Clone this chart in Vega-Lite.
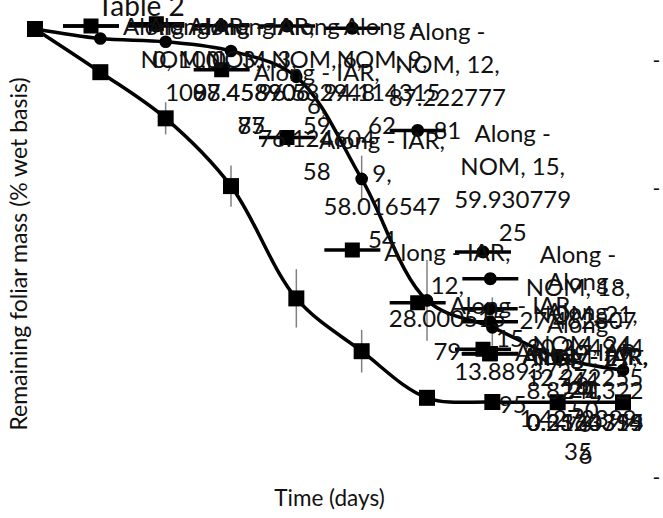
{
  "$schema": "https://vega.github.io/schema/vega-lite/v6.json",
  "width": 588,
  "height": 449,
  "autosize": {"type": "none"},
  "padding": {"left": 35, "top": 29, "right": 40, "bottom": 40},
  "background": "white",
  "title": {"text": "Table 2", "anchor": "start", "frame": "group", "dx": 62, "offset": -28, "baseline": "alphabetic", "font": "Lato", "fontSize": 28, "fontWeight": "normal", "color": "#111111"},
  "config": {"view": {"stroke": null}},
  "data": {"values": [
    {"series": "Along - NOM", "day": 0, "value": 100, "err": 0, "label": "Along -\nNOM, 0,\n100"},
    {"series": "Along - NOM", "day": 3, "value": 97.45890675, "err": 0.8, "label": "Along -\nNOM, 3,\n97.458906\n75"},
    {"series": "Along - NOM", "day": 6, "value": 96.58294859, "err": 1.2, "label": "Along -\nNOM, 6,\n96.582948\n59"},
    {"series": "Along - NOM", "day": 9, "value": 94.11431562, "err": 1.5, "label": "Along -\nNOM, 9,\n94.114315\n62"},
    {"series": "Along - NOM", "day": 12, "value": 87.22277781, "err": 1.5, "label": "Along -\nNOM, 12,\n87.222777\n81"},
    {"series": "Along - NOM", "day": 15, "value": 59.93077925, "err": 6.2, "label": "Along -\nNOM, 15,\n59.930779\n25"},
    {"series": "Along - NOM", "day": 18, "value": 27.46280717, "err": 10.8, "label": "Along -\nNOM, 18,\n27.462807\n17"},
    {"series": "Along - NOM", "day": 21, "value": 20.26494444, "err": 8, "label": "Along -\nNOM, 21,\n20.264944\n44"},
    {"series": "Along - NOM", "day": 24, "value": 12.2722555, "err": 2, "label": "Along -\nNOM, 24,\n12.272255\n50"},
    {"series": "Along - NOM", "day": 27, "value": 8.82413226, "err": 1.5, "label": "Along -\nNOM, 27,\n8.8241322\n6"},
    {"series": "Along - IAR", "day": 0, "value": 100, "err": 0, "label": "Along - IAR,\n0, 100"},
    {"series": "Along - IAR", "day": 3, "value": 88.45890687, "err": 1, "label": "Along - IAR,\n3,\n88.458906\n87"},
    {"series": "Along - IAR", "day": 6, "value": 76.12460458, "err": 4.3, "label": "Along - IAR,\n6,\n76.124604\n58"},
    {"series": "Along - IAR", "day": 9, "value": 58.01654754, "err": 5.5, "label": "Along - IAR,\n9,\n58.016547\n54"},
    {"series": "Along - IAR", "day": 12, "value": 28.00051579, "err": 7.8, "label": "Along - IAR,\n12,\n28.000515\n79"},
    {"series": "Along - IAR", "day": 15, "value": 13.88937295, "err": 5.7, "label": "Along - IAR,\n15,\n13.889372\n95"},
    {"series": "Along - IAR", "day": 18, "value": 1.427239935, "err": 0.8, "label": "Along - IAR,\n18,\n1.4272399\n35"},
    {"series": "Along - IAR", "day": 21, "value": 0.31607556, "err": 0.3, "label": "Along - IAR,\n21,\n0.3160755\n6"},
    {"series": "Along - IAR", "day": 24, "value": 0.2524314, "err": 0.3, "label": "Along - IAR,\n24,\n0.2524314"},
    {"series": "Along - IAR", "day": 27, "value": 0.2323399, "err": 0.3, "label": "Along - IAR,\n27,\n0.2323399"}
  ]},
  "layer": [
    {
      "encoding": {
        "x": {"field": "day", "type": "quantitative", "scale": {"domain": [0, 27], "nice": false, "zero": false},
          "axis": {"title": "Time (days)", "labels": false, "ticks": false, "domain": false, "grid": false, "titlePadding": 9, "titleFont": "Lato", "titleFontSize": 22.5, "titleFontWeight": "normal", "titleColor": "#111111"}},
        "y": {"field": "value", "type": "quantitative", "scale": {"domain": [-20, 100], "nice": false, "zero": false},
          "axis": {"title": "Remaining foliar mass (% wet basis)", "labels": false, "ticks": false, "domain": false, "grid": false, "titlePadding": 4, "titleFont": "Lato", "titleFontSize": 23, "titleFontWeight": "normal", "titleColor": "#111111"}}
      },
      "layer": [
        {"mark": {"type": "errorbar", "color": "#808080", "thickness": 1.5}, "encoding": {"yError": {"field": "err"}}},
        {"mark": {"type": "line", "color": "black", "strokeWidth": 3.5, "interpolate": "catmull-rom"}, "encoding": {"detail": {"field": "series"}}},
        {"transform": [{"filter": "datum.series == 'Along - IAR'"}], "mark": {"type": "point", "shape": "square", "size": 256, "filled": true, "color": "black", "opacity": 1}},
        {"transform": [{"filter": "datum.series == 'Along - NOM'"}], "mark": {"type": "point", "shape": "circle", "size": 160, "filled": true, "color": "black", "opacity": 1}},

        {"transform": [{"filter": "datum.series == 'Along - NOM' && datum.day >= 12 && datum.day <= 18"}], "mark": {"type": "point", "size": 4, "filled": true, "color": "black", "opacity": 1, "shape": "M28,-50.25H84V-46.75H28Z M49.5,-48.5A6.5,6.5 0 1 1 62.5,-48.5A6.5,6.5 0 1 1 49.5,-48.5Z"}},
        {"transform": [{"filter": "datum.series == 'Along - IAR' && datum.day >= 3 && datum.day <= 18"}], "mark": {"type": "point", "size": 4, "filled": true, "color": "black", "opacity": 1, "shape": "M28,-50.25H84V-46.75H28Z M48.5,-56H63.5V-41H48.5Z"}},
        {"transform": [{"filter": "datum.series == 'Along - NOM' && datum.day == 0"}], "mark": {"type": "point", "size": 4, "filled": true, "color": "black", "opacity": 1, "shape": "M28,-4.75H84V-1.25H28Z M49.5,-3A6.5,6.5 0 1 1 62.5,-3A6.5,6.5 0 1 1 49.5,-3Z"}},
        {"transform": [{"filter": "datum.series == 'Along - IAR' && datum.day == 0"}], "mark": {"type": "point", "size": 4, "filled": true, "color": "black", "opacity": 1, "shape": "M28,-4.75H84V-1.25H28Z M48.5,-10.5H63.5V4.5H48.5Z"}},
        {"transform": [{"filter": "datum.series == 'Along - NOM' && datum.day == 3"}], "mark": {"type": "point", "size": 4, "filled": true, "color": "black", "opacity": 1, "shape": "M28,-14.25H84V-10.75H28Z M49.5,-12.5A6.5,6.5 0 1 1 62.5,-12.5A6.5,6.5 0 1 1 49.5,-12.5Z"}},
        {"transform": [{"filter": "datum.series == 'Along - NOM' && datum.day == 6"}], "mark": {"type": "point", "size": 4, "filled": true, "color": "black", "opacity": 1, "shape": "M28,-17.75H84V-14.25H28Z M49.5,-16A6.5,6.5 0 1 1 62.5,-16A6.5,6.5 0 1 1 49.5,-16Z"}},
        {"transform": [{"filter": "datum.series == 'Along - NOM' && datum.day == 9"}], "mark": {"type": "point", "size": 4, "filled": true, "color": "black", "opacity": 1, "shape": "M28,-26.75H84V-23.25H28Z M49.5,-25A6.5,6.5 0 1 1 62.5,-25A6.5,6.5 0 1 1 49.5,-25Z"}},
        {"transform": [{"filter": "datum.series == 'Along - NOM' && datum.day == 21"}], "mark": {"type": "point", "size": 4, "filled": true, "color": "black", "opacity": 1, "shape": "M-30,-50.25H26V-46.75H-30Z M-8.5,-48.5A6.5,6.5 0 1 1 4.5,-48.5A6.5,6.5 0 1 1 -8.5,-48.5Z"}},
        {"transform": [{"filter": "datum.series == 'Along - IAR' && datum.day == 21"}], "mark": {"type": "point", "size": 4, "filled": true, "color": "black", "opacity": 1, "shape": "M-30,-50.25H26V-46.75H-30Z M-9.5,-56H5.5V-41H-9.5Z"}},
        {"transform": [{"filter": "datum.series == 'Along - NOM' && datum.day == 24"}], "mark": {"type": "point", "size": 4, "filled": true, "color": "black", "opacity": 1, "shape": "M-96,-50.25H-40V-46.75H-96Z M-74.5,-48.5A6.5,6.5 0 1 1 -61.5,-48.5A6.5,6.5 0 1 1 -74.5,-48.5Z"}},
        {"transform": [{"filter": "datum.series == 'Along - IAR' && datum.day == 24"}], "mark": {"type": "point", "size": 4, "filled": true, "color": "black", "opacity": 1, "shape": "M-96,-50.25H-40V-46.75H-96Z M-75.5,-56H-60.5V-41H-75.5Z"}},
        {"transform": [{"filter": "datum.series == 'Along - NOM' && datum.day == 27"}], "mark": {"type": "point", "size": 4, "filled": true, "color": "black", "opacity": 1, "shape": "M-161,-50.25H-105V-46.75H-161Z M-139.5,-48.5A6.5,6.5 0 1 1 -126.5,-48.5A6.5,6.5 0 1 1 -139.5,-48.5Z"}},
        {"transform": [{"filter": "datum.series == 'Along - IAR' && datum.day == 27"}], "mark": {"type": "point", "size": 4, "filled": true, "color": "black", "opacity": 1, "shape": "M-161,-50.25H-105V-46.75H-161Z M-140.5,-56H-125.5V-41H-140.5Z"}},

        {"transform": [{"filter": "(datum.series == 'Along - NOM' && datum.day >= 12 && datum.day <= 18) || (datum.series == 'Along - IAR' && datum.day >= 3 && datum.day <= 18)"}], "mark": {"type": "text", "align": "center", "baseline": "top", "lineBreak": "\n", "lineHeight": 33, "font": "Lato", "fontSize": 24, "color": "#111111", "dx": 151, "dy": -56}, "encoding": {"text": {"field": "label"}}},
        {"transform": [{"filter": "datum.day == 0"}], "mark": {"type": "text", "align": "center", "baseline": "top", "lineBreak": "\n", "lineHeight": 33, "font": "Lato", "fontSize": 24, "color": "#111111", "dx": 151, "dy": -13}, "encoding": {"text": {"field": "label"}}},
        {"transform": [{"filter": "datum.series == 'Along - NOM' && datum.day == 3"}], "mark": {"type": "text", "align": "center", "baseline": "top", "lineBreak": "\n", "lineHeight": 33, "font": "Lato", "fontSize": 24, "color": "#111111", "dx": 151, "dy": -22.5}, "encoding": {"text": {"field": "label"}}},
        {"transform": [{"filter": "datum.series == 'Along - NOM' && datum.day == 6"}], "mark": {"type": "text", "align": "center", "baseline": "top", "lineBreak": "\n", "lineHeight": 33, "font": "Lato", "fontSize": 24, "color": "#111111", "dx": 151, "dy": -26}, "encoding": {"text": {"field": "label"}}},
        {"transform": [{"filter": "datum.series == 'Along - NOM' && datum.day == 9"}], "mark": {"type": "text", "align": "center", "baseline": "top", "lineBreak": "\n", "lineHeight": 33, "font": "Lato", "fontSize": 24, "color": "#111111", "dx": 151, "dy": -35}, "encoding": {"text": {"field": "label"}}},
        {"transform": [{"filter": "datum.day == 21"}], "mark": {"type": "text", "align": "center", "baseline": "top", "lineBreak": "\n", "lineHeight": 33, "font": "Lato", "fontSize": 24, "color": "#111111", "dx": 93, "dy": -56}, "encoding": {"text": {"field": "label"}}},
        {"transform": [{"filter": "datum.day == 24"}], "mark": {"type": "text", "align": "center", "baseline": "top", "lineBreak": "\n", "lineHeight": 33, "font": "Lato", "fontSize": 24, "color": "#111111", "dx": 27, "dy": -56}, "encoding": {"text": {"field": "label"}}},
        {"transform": [{"filter": "datum.day == 27"}], "mark": {"type": "text", "align": "center", "baseline": "top", "lineBreak": "\n", "lineHeight": 33, "font": "Lato", "fontSize": 24, "color": "#111111", "dx": -38, "dy": -56}, "encoding": {"text": {"field": "label"}}}
      ]
    },
    {
      "mark": {"type": "point", "opacity": 0},
      "encoding": {
        "y": {"field": "value", "type": "quantitative", "scale": {"domain": [-20, 100], "nice": false, "zero": false},
          "axis": {"orient": "right", "values": [91.2, 57, -20], "labelExpr": "'-'", "domain": false, "ticks": false, "grid": false, "title": null, "labelPadding": 29, "labelFont": "Lato", "labelFontSize": 21, "labelColor": "#111111", "labelBaseline": "middle", "labelAlign": "left"}}
      }
    }
  ],
  "resolve": {"scale": {"y": "independent"}}
}
